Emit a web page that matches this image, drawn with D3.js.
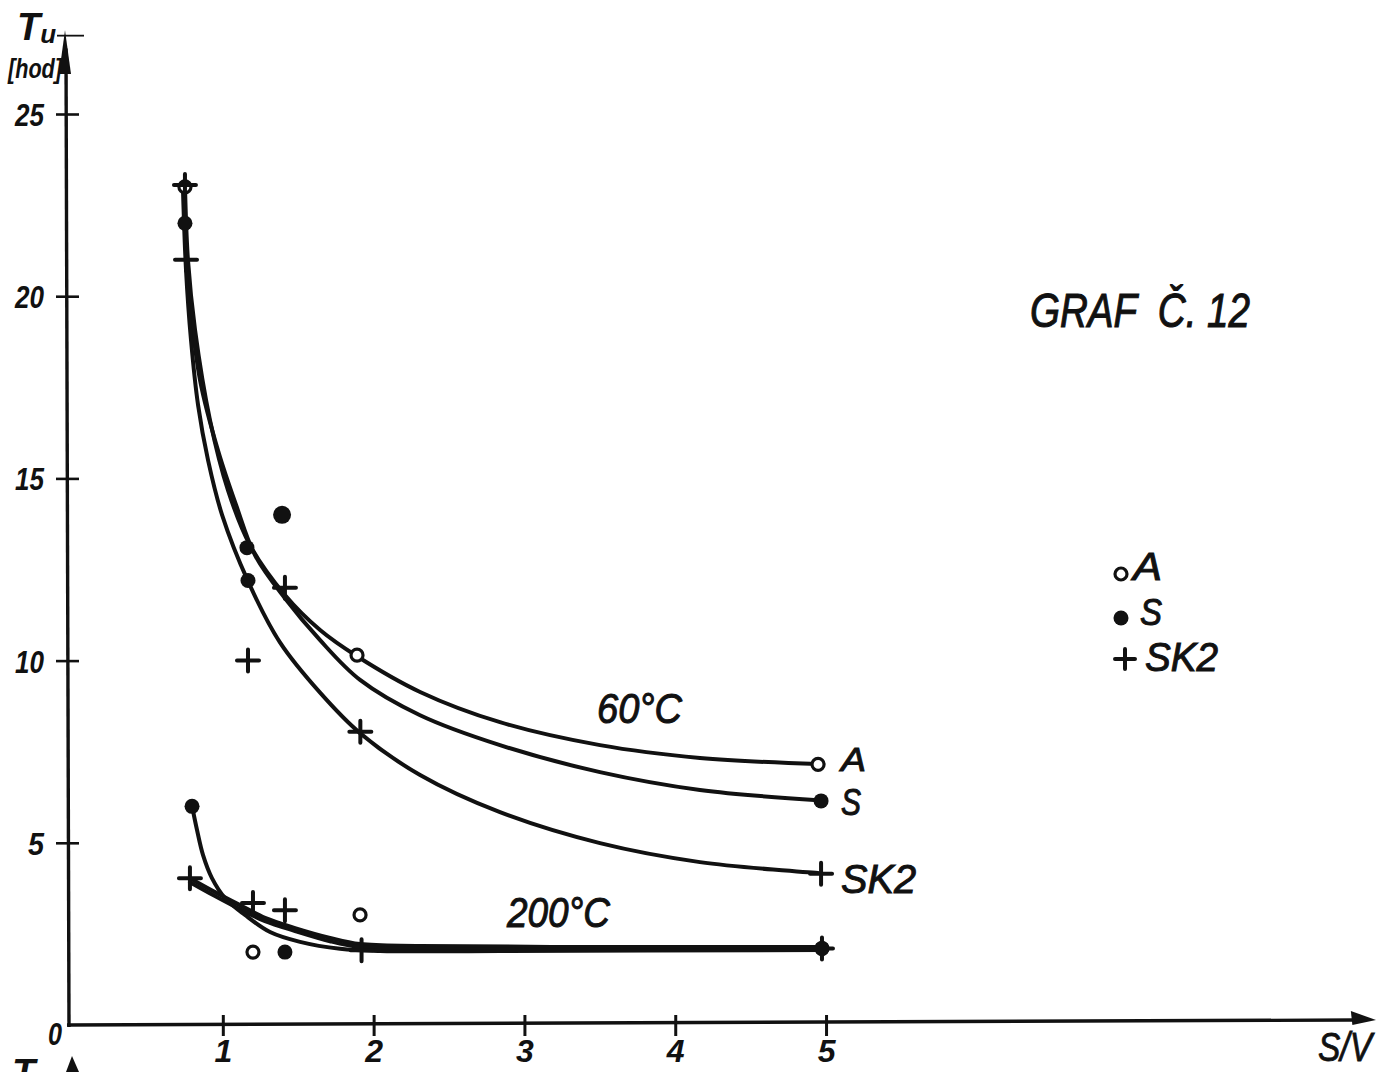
<!DOCTYPE html>
<html>
<head>
<meta charset="utf-8">
<script src="https://cdn.jsdelivr.net/npm/d3@7"></script>
<style>
  html, body { margin: 0; padding: 0; background: #fff; }
  svg { display: block; }
  text { font-family: "Liberation Sans", Arial, sans-serif; font-style: italic; fill: #111; }
</style>
</head>
<body>
<svg id="chart" width="1386" height="1072"></svg>
<script>
// ---- tick labels ----
const xTicks = [1, 2, 3, 4, 5];
const yTicks = [5, 10, 15, 20, 25];

// ---- hand-faired curves: T_u [hod] against S/V ----
// 60 °C
const curveA60 = [[0.749,23.05],[0.769,20.99],[0.816,19.07],[0.915,16.60],[1.034,14.68],[1.180,13.17],[1.412,11.80],[1.645,10.84],[1.890,10.12],[2.308,9.14],[2.838,8.31],[3.501,7.68],[4.164,7.33],[4.947,7.16]];
const curveS60 = [[0.749,22.03],[0.782,19.89],[0.849,17.70],[0.968,15.77],[1.088,14.27],[1.214,12.89],[1.412,11.71],[1.645,10.56],[1.910,9.47],[2.308,8.50],[2.838,7.68],[3.501,6.94],[4.164,6.45],[4.947,6.17]];
const curveSK260 = [[0.736,22.91],[0.756,20.72],[0.789,18.80],[0.836,17.01],[0.902,15.50],[0.995,14.00],[1.167,12.18],[1.379,10.50],[1.645,9.12],[1.910,8.01],[2.308,6.86],[2.838,5.84],[3.501,4.99],[4.164,4.47],[4.947,4.17]];
// 200 °C
const curveA200 = [[0.782,4.03],[0.948,3.65],[1.114,3.29],[1.280,2.94],[1.479,2.66],[1.711,2.39],[1.910,2.22],[2.308,2.17],[3.501,2.14],[4.973,2.14]];
const curveSK2200 = [[0.782,3.92],[0.948,3.54],[1.114,3.18],[1.280,2.85],[1.479,2.58],[1.711,2.30],[1.910,2.14],[2.308,2.09],[3.501,2.06],[4.973,2.06]];
const curveS200 = [[0.796,6.01],[0.829,5.35],[0.869,4.66],[0.928,4.03],[1.015,3.48],[1.147,3.02],[1.313,2.55],[1.512,2.28],[1.777,2.09],[2.042,2.03],[2.838,2.03],[4.973,2.06]];

// ---- measured points ----
const pointsA = [[0.749,23.0],[1.890,10.15],[4.947,7.15],[1.20,2.0],[1.91,3.02],[4.973,2.1]];
const pointsS = [[0.749,22.0],[1.167,12.2],[1.160,13.1],[1.393,14.0],[4.967,6.15],[0.796,6.0],[1.412,2.0],[4.973,2.1]];
const pointsSK2 = [[0.749,23.05],[0.756,21.0],[1.167,10.0],[1.412,12.0],[1.912,8.05],[4.967,4.15],[0.782,4.03],[1.20,3.35],[1.412,3.15],[1.92,2.05],[4.973,2.1]];

// ---- legend ----
const legendItems = ["A", "S", "SK2"];

const INK = "#111";
const svg = d3.select("#chart");

const x = d3.scaleLinear().domain([0, 8.66]).range([72, 1378]);
const y = d3.scaleLinear().domain([0, 25]).range([1025, 114]);

// ---- axes ----
const gx = svg.append("g")
  .attr("transform", `translate(0,${y(0)})`)
  .call(d3.axisBottom(x).tickValues(xTicks).tickSize(0).tickFormat(d3.format("d")));
gx.select(".domain").remove();
gx.attr("font-family", null).attr("font-size", null);
gx.selectAll(".tick line").attr("y1", -10).attr("y2", 11).attr("stroke", INK).attr("stroke-width", 3);
gx.selectAll(".tick text")
  .attr("y", 37).attr("dy", 0)
  .attr("font-size", 32).attr("font-weight", "bold")
  .attr("fill", INK);

const gy = svg.append("g")
  .attr("transform", `translate(${x(0) - 3},0)`)
  .call(d3.axisLeft(y).tickValues(yTicks).tickSize(0).tickFormat(d3.format("d")));
gy.select(".domain").remove();
gy.attr("font-family", null).attr("font-size", null);
gy.selectAll(".tick line").attr("x1", -13).attr("x2", 10).attr("stroke", INK).attr("stroke-width", 2.6);
gy.selectAll(".tick text")
  .attr("x", -25).attr("dy", "0.36em")
  .attr("font-size", 32).attr("font-weight", "bold")
  .attr("textLength", d => d >= 10 ? 29 : 16)
  .attr("lengthAdjust", "spacingAndGlyphs")
  .attr("fill", INK);

// axis lines with arrowheads
svg.append("line")
  .attr("x1", x(0) - 3).attr("y1", y(0) + 2)
  .attr("x2", x(0) - 6).attr("y2", y(26.8))
  .attr("stroke", INK).attr("stroke-width", 3.4);
svg.append("path")
  .attr("d", `M${x(0) - 7},${y(27.3)} L${x(0) - 13},${y(26.1)} L${x(0) - 1},${y(26.1)} Z`)
  .attr("fill", INK);
svg.append("line")
  .attr("x1", x(0) - 15).attr("x2", x(0) + 12)
  .attr("y1", y(27.15)).attr("y2", y(27.15))
  .attr("stroke", INK).attr("stroke-width", 1.8);

svg.append("line")
  .attr("x1", x(0) - 5).attr("y1", y(0))
  .attr("x2", x(8.5)).attr("y2", y(0) - 5)
  .attr("stroke", INK).attr("stroke-width", 3.4);
svg.append("path")
  .attr("d", `M${x(8.66) - 2},${y(0) - 5} L${x(8.48)},${y(0) - 14} L${x(8.49)},${y(0)} Z`)
  .attr("fill", INK);

// axis titles
const tu = svg.append("text").attr("x", 17).attr("y", 40).attr("font-size", 38).attr("font-weight", "bold");
tu.append("tspan").text("T");
tu.append("tspan").attr("font-size", 26).attr("dy", 3).text("u");
svg.append("text").attr("x", 8).attr("y", 78).attr("font-size", 27).attr("font-weight", "bold")
  .attr("font-style", "normal")
  .attr("textLength", 54).attr("lengthAdjust", "spacingAndGlyphs").text("[hod]");
svg.append("text").attr("x", x(0) - 24).attr("y", 1045).attr("font-size", 32).attr("font-weight", "bold")
  .attr("textLength", 14).attr("lengthAdjust", "spacingAndGlyphs").text("0");
svg.append("text").attr("x", 1318).attr("y", 1061).attr("font-size", 40)
  .attr("stroke", INK).attr("stroke-width", 0.8)
  .attr("textLength", 54).attr("lengthAdjust", "spacingAndGlyphs").text("S/V");

// top of the next sheet's axis, cut by the page edge
svg.append("text").attr("x", 12).attr("y", 1086).attr("font-size", 38).attr("font-weight", "bold").text("T");
svg.append("path").attr("d", `M${x(0)},1056 L${x(0) - 6},1072 L${x(0) + 7},1072 Z`).attr("fill", INK);

// ---- curves ----
const line = d3.line().x(d => x(d[0])).y(d => y(d[1])).curve(d3.curveCatmullRom.alpha(0.5));
const curves = [curveA60, curveS60, curveSK260, curveA200, curveSK2200, curveS200];
svg.append("g").selectAll("path").data(curves).join("path")
  .attr("d", line)
  .attr("fill", "none")
  .attr("stroke", INK)
  .attr("stroke-width", 4)
  .attr("stroke-linecap", "round");

// ---- markers ----
function crossPath(cx, cy, a) {
  return `M${cx - a},${cy} L${cx + a},${cy} M${cx},${cy - a} L${cx},${cy + a}`;
}
const gm = svg.append("g");
gm.selectAll("circle.a").data(pointsA).join("circle").attr("class", "a")
  .attr("cx", d => x(d[0])).attr("cy", d => y(d[1])).attr("r", 6)
  .attr("fill", "#fff").attr("stroke", INK).attr("stroke-width", 3.2);
gm.selectAll("circle.s").data(pointsS).join("circle").attr("class", "s")
  .attr("cx", d => x(d[0])).attr("cy", d => y(d[1])).attr("r", (d, i) => i === 3 ? 9 : 7.5)
  .attr("fill", INK);
gm.selectAll("path.sk").data(pointsSK2).join("path").attr("class", "sk")
  .attr("d", d => crossPath(x(d[0]), y(d[1]), 11))
  .attr("stroke", INK).attr("stroke-width", 4).attr("stroke-linecap", "round");

// ---- curve end labels ----
const endLabels = [
  { t: "A", v: curveA60[curveA60.length - 1], dy: 7, size: 34, len: 25 },
  { t: "S", v: curveS60[curveS60.length - 1], dy: 15, size: 36, len: 20 },
  { t: "SK2", v: curveSK260[curveSK260.length - 1], dy: 20, size: 40, len: 75 }
];
svg.append("g").selectAll("text").data(endLabels).join("text")
  .attr("x", d => x(d.v[0]) + 23)
  .attr("y", d => y(d.v[1]) + d.dy)
  .attr("font-size", d => d.size)
  .attr("stroke", INK).attr("stroke-width", 1)
  .attr("textLength", d => d.len).attr("lengthAdjust", "spacingAndGlyphs")
  .text(d => d.t);

// temperature labels
svg.append("text").attr("x", 597).attr("y", 723).attr("font-size", 42)
  .attr("stroke", INK).attr("stroke-width", 1)
  .attr("textLength", 85).attr("lengthAdjust", "spacingAndGlyphs").text("60°C");
svg.append("text").attr("x", 507).attr("y", 927).attr("font-size", 42)
  .attr("stroke", INK).attr("stroke-width", 1)
  .attr("textLength", 103).attr("lengthAdjust", "spacingAndGlyphs").text("200°C");

// title
svg.append("text").attr("x", 1030).attr("y", 327).attr("font-size", 48)
  .attr("stroke", INK).attr("stroke-width", 1.1)
  .attr("textLength", 220).attr("lengthAdjust", "spacingAndGlyphs").attr("xml:space", "preserve")
  .text("GRAF  Č. 12");

// ---- legend ----
const lg = svg.append("g").attr("transform", "translate(1121,574)");
const legendRows = lg.selectAll("g").data(legendItems).join("g")
  .attr("transform", (d, i) => `translate(0,${[0, 44, 85][i]})`);
legendRows.each(function (d, i) {
  const row = d3.select(this);
  if (i === 0) row.append("circle").attr("r", 6).attr("fill", "none").attr("stroke", INK).attr("stroke-width", 3.2);
  if (i === 1) row.append("circle").attr("r", 7.5).attr("fill", INK);
  if (i === 2) row.append("path").attr("d", crossPath(4, 0, 10)).attr("stroke", INK).attr("stroke-width", 4).attr("stroke-linecap", "round");
  row.append("text")
    .attr("x", [12, 19, 24][i])
    .attr("y", [6, 7, 12][i])
    .attr("font-size", [38, 36, 40][i])
    .attr("stroke", INK).attr("stroke-width", 1)
    .attr("textLength", [29, 22, 73][i]).attr("lengthAdjust", "spacingAndGlyphs")
    .text(d);
});
</script>
</body>
</html>
